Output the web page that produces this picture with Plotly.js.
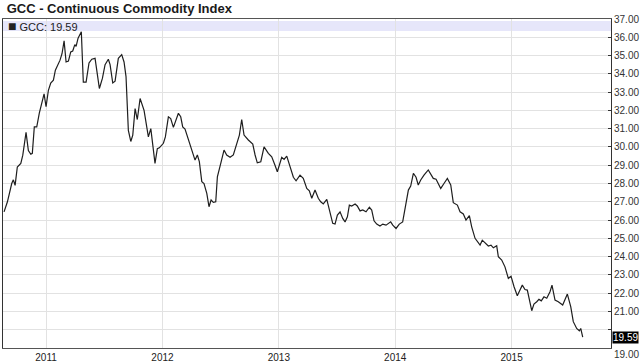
<!DOCTYPE html>
<html>
<head>
<meta charset="utf-8">
<script src="https://cdn.plot.ly/plotly-3.0.1.min.js"></script>
<style>html,body{margin:0;padding:0;background:#fff}#chart{width:640px;height:364px}</style>
</head>
<body>
<div id="chart"></div>
<script>
// decimal year of each observation
const years = [2010.639,2010.668,2010.705,2010.719,2010.734,2010.753,2010.783,2010.800,2010.828,2010.848,
2010.869,2010.882,2010.899,2010.920,2010.942,2010.968,2010.983,2011.000,2011.020,2011.040,
2011.063,2011.080,2011.097,2011.120,2011.137,2011.155,2011.172,2011.192,2011.212,2011.229,
2011.247,2011.258,2011.275,2011.292,2011.303,2011.320,2011.344,2011.369,2011.393,2011.421,
2011.458,2011.484,2011.507,2011.535,2011.550,2011.573,2011.593,2011.621,2011.650,2011.670,
2011.687,2011.707,2011.728,2011.745,2011.765,2011.784,2011.808,2011.842,2011.879,2011.900,
2011.936,2011.956,2011.973,2012.008,2012.025,2012.051,2012.071,2012.094,2012.117,2012.137,
2012.157,2012.174,2012.194,2012.223,2012.252,2012.280,2012.300,2012.317,2012.338,2012.357,
2012.381,2012.400,2012.418,2012.437,2012.458,2012.472,2012.501,2012.529,2012.552,2012.581,
2012.609,2012.632,2012.661,2012.681,2012.701,2012.738,2012.776,2012.796,2012.815,2012.845,
2012.873,2012.910,2012.939,2012.967,2012.987,2013.025,2013.045,2013.068,2013.096,2013.125,
2013.148,2013.182,2013.210,2013.240,2013.262,2013.283,2013.311,2013.339,2013.360,2013.382,
2013.412,2013.440,2013.463,2013.483,2013.503,2013.526,2013.549,2013.569,2013.589,2013.606,
2013.626,2013.655,2013.674,2013.698,2013.721,2013.749,2013.778,2013.798,2013.818,2013.841,
2013.869,2013.893,2013.921,2013.961,2013.979,2014.007,2014.035,2014.064,2014.084,2014.099,
2014.113,2014.133,2014.156,2014.179,2014.198,2014.219,2014.247,2014.284,2014.327,2014.351,
2014.391,2014.419,2014.448,2014.477,2014.499,2014.534,2014.557,2014.585,2014.608,2014.637,
2014.657,2014.686,2014.729,2014.748,2014.772,2014.800,2014.823,2014.843,2014.872,2014.886,
2014.915,2014.943,2014.972,2014.995,2015.021,2015.049,2015.072,2015.092,2015.115,2015.135,
2015.173,2015.192,2015.216,2015.235,2015.255,2015.278,2015.302,2015.330,2015.347,2015.373,
2015.401,2015.439,2015.479,2015.508,2015.530,2015.559,2015.582,2015.594,2015.611];

// GCC index values
const gcc = [26.45,27.0,28.0,28.2,27.9,28.9,29.1,29.55,30.8,29.8,
29.6,29.65,31.1,31.1,31.85,32.6,32.9,32.2,33.1,33.5,
33.65,34.2,34.4,34.75,35.1,35.8,34.65,34.7,35.2,35.25,
35.6,35.5,35.95,36.2,36.3,33.55,33.55,34.6,34.8,34.85,
33.2,33.75,34.5,34.8,34.5,33.5,33.6,34.85,35.05,34.65,
33.85,30.9,30.3,30.65,32.1,31.5,32.65,32.0,30.55,31.0,
29.1,29.9,29.95,30.2,30.55,31.65,31.55,31.07,31.47,31.84,
31.65,31.1,30.98,30.38,29.83,29.28,29.56,29.2,28.1,28.0,
27.46,26.73,27.1,26.97,27.0,28.37,29.1,29.83,29.56,29.43,
29.56,30.1,30.65,31.5,30.65,30.38,30.16,29.56,29.13,29.19,
30.0,29.65,29.46,29.0,28.64,29.43,29.32,29.5,28.92,28.34,
28.15,28.46,28.28,27.73,27.6,27.19,27.64,27.19,27.0,26.88,
27.13,26.37,25.82,25.78,26.27,26.45,26.09,25.9,26.18,26.82,
26.77,26.88,26.77,26.5,26.55,26.45,26.7,26.55,25.96,25.78,
25.67,25.78,25.72,25.9,25.72,25.54,25.78,25.9,26.55,27.1,
27.64,27.86,28.56,28.34,27.92,28.19,28.46,28.74,28.28,28.23,
27.73,28.0,28.28,27.92,26.95,26.82,26.45,26.33,26.0,26.24,
25.63,25.0,24.63,24.9,24.76,24.58,24.63,24.48,24.59,23.99,
23.81,23.44,22.81,22.93,22.35,21.86,22.17,22.44,22.2,22.17,
21.04,21.40,21.53,21.66,21.58,21.8,21.72,22.08,22.44,21.62,
21.53,21.35,21.95,21.26,20.44,20.07,19.94,20.07,19.59];

const yearTicks = [2011, 2012, 2013, 2014, 2015];
const yearLabels = ['2011', '2012', '2013', '2014', '2015'];
const priceTicks = [20,21,22,23,24,25,26,27,28,29,30,31,32,33,34,35,36,37];
const priceLabels = priceTicks.map(v => v === 20 ? '' : v.toFixed(2));
const lastValue = gcc[gcc.length - 1];

const trace = {
  x: years, y: gcc, type: 'scatter', mode: 'lines',
  line: {color: '#1e1e1e', width: 1.2},
  hoverinfo: 'skip'
};

const FONT = 'Liberation Sans, Arial, sans-serif';

const layout = {
  width: 640, height: 364,
  margin: {l: 3, r: 29, t: 19, b: 16},
  paper_bgcolor: '#ffffff', plot_bgcolor: '#ffffff',
  showlegend: false,
  font: {family: FONT, color: '#222'},
  title: {
    text: '<b>GCC - Continuous Commodity Index</b>',
    x: 0.006, xanchor: 'left', xref: 'paper',
    y: 0.976, yref: 'container', yanchor: 'middle',
    font: {size: 13, family: FONT, color: '#1a1a1a'}
  },
  xaxis: {
    range: [2010.630, 2015.854],
    tickvals: yearTicks, ticktext: yearLabels,
    ticks: '', showgrid: true, gridcolor: '#e2e2e2', gridwidth: 1,
    showline: true, mirror: true, linecolor: '#555', linewidth: 1,
    zeroline: false, tickfont: {size: 10, family: FONT, color: '#222'}
  },
  yaxis: {
    side: 'right', range: [19, 37],
    tickvals: priceTicks, ticktext: priceLabels,
    ticks: 'inside', ticklen: 3, tickcolor: '#333',
    ticklabelstandoff: 0,
    showgrid: true, gridcolor: '#e2e2e2', gridwidth: 1,
    showline: true, mirror: true, linecolor: '#333', linewidth: 1,
    zeroline: false, tickfont: {size: 10, family: FONT, color: '#333'}
  },
  shapes: [{
    type: 'rect', xref: 'paper', yref: 'paper',
    x0: 0, x1: 1, y0: 0.9635, y1: 0.994,
    fillcolor: '#e6e6fa', line: {width: 0}, layer: 'below'
  }],
  annotations: [
    {
      text: '<span style="font-size:14px">■</span> GCC: ' + lastValue.toFixed(2), xref: 'paper', yref: 'paper',
      x: 0.005, y: 0.979, xanchor: 'left', yanchor: 'middle', showarrow: false,
      font: {size: 11, family: FONT, color: '#222'}
    },
    {
      text: lastValue.toFixed(2), xref: 'paper', yref: 'y',
      x: 1, y: lastValue, xanchor: 'left', yanchor: 'middle', xshift: 1,
      showarrow: false, bgcolor: '#000', borderpad: 0,
      font: {size: 10, family: FONT, color: '#fff'}
    },
    {
      text: '19.00', xref: 'paper', yref: 'y',
      x: 1, y: 19, xanchor: 'left', yanchor: 'top', xshift: 1, yshift: 1,
      showarrow: false,
      font: {size: 10, family: FONT, color: '#333'}
    }
  ]
};

Plotly.newPlot('chart', [trace], layout, {staticPlot: true, displayModeBar: false});
</script>
</body>
</html>
